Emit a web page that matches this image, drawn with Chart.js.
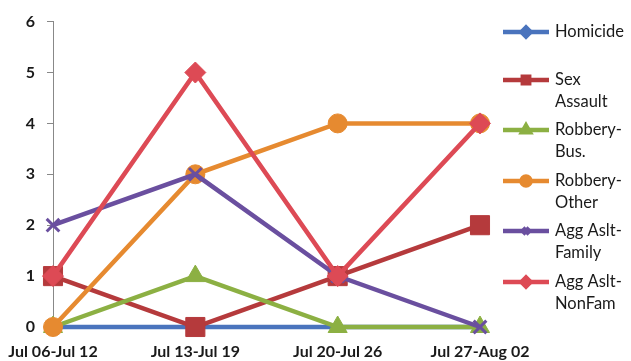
<!DOCTYPE html>
<html>
<head>
<meta charset="utf-8">
<script src="https://cdn.jsdelivr.net/npm/chart.js@4"></script>
<style>
  html, body { margin: 0; padding: 0; background: #fff; }
  #wrap { width: 631px; height: 361px; position: relative; }
</style>
</head>
<body>
<div id="wrap"><canvas id="crimechart"></canvas></div>
<script>
const weeks = ['Jul 06-Jul 12', 'Jul 13-Jul 19', 'Jul 20-Jul 26', 'Jul 27-Aug 02'];
const yTicks = [0, 1, 2, 3, 4, 5, 6];

const homicide = [0, 0, 0, 0];
const sexAssault = [1, 0, 1, 2];
const robberyBus = [0, 1, 0, 0];
const robberyOther = [0, 3, 4, 4];
const aggFamily = [2, 3, 1, 0];
const aggNonFam = [1, 5, 1, 4];

const seriesNames = [['Homicide'], ['Sex', 'Assault'], ['Robbery-', 'Bus.'], ['Robbery-', 'Other'], ['Agg Aslt-', 'Family'], ['Agg Aslt-', 'NonFam']];
const seriesColors = ['#4a74bd', '#b53a3c', '#8cb043', '#e68a30', '#6a4f9f', '#dd4a55'];
const seriesValues = [homicide, sexAssault, robberyBus, robberyOther, aggFamily, aggNonFam];
const seriesStyles = ['rectRot', 'rect', 'triangle', 'circle', 'crossRot', 'rectRot'];
const seriesRadius = [5, 13.5, 11, 9.5, 9, 10.5];

// legend drawn by hand so the labels can wrap like the original
const sideLegend = {
    id: 'sideLegend',
    afterDraw(chart) {
        const ctx = chart.ctx;
        const rows = [32, 80, 130, 181, 231, 282];
        ctx.save();
        chart.data.datasets.forEach(function (ds, i) {
            const y = rows[i];
            ctx.strokeStyle = ds.borderColor;
            ctx.lineWidth = 4.5;
            ctx.beginPath();
            ctx.moveTo(503, y);
            ctx.lineTo(549, y);
            ctx.stroke();
            ctx.fillStyle = ds.borderColor;
            Chart.helpers.drawPoint(ctx, {pointStyle: ds.pointStyle, radius: 4.5, borderWidth: 2}, 526, y);
            ctx.fill();
            ctx.fillStyle = '#1a1a1a';
            ctx.font = '16.5px Lato, "Open Sans", sans-serif';
            ctx.textBaseline = 'middle';
            ctx.textAlign = 'left';
            seriesNames[i].forEach(function (line, j) {
                ctx.fillText(line, 555, y + j * 22);
            });
        });
        ctx.restore();
    }
};

const datasets = seriesValues.map(function (vals, i) {
    return {
        label: seriesNames[i].join(' '),
        data: vals,
        borderColor: seriesColors[i],
        backgroundColor: seriesColors[i],
        borderWidth: 4.5,
        pointStyle: seriesStyles[i],
        pointRadius: seriesRadius[i],
        pointBorderWidth: seriesStyles[i] == 'crossRot' ? 3 : 1,
        pointHoverRadius: seriesRadius[i],
        tension: 0,
        clip: false,
        order: 6 - i
    };
});

new Chart(document.getElementById('crimechart'), {
    type: 'line',
    data: { labels: weeks, datasets: datasets },
    options: {
        responsive: true,
        maintainAspectRatio: false,
        animation: false,
        layout: { padding: { top: 17, right: 151, left: 0, bottom: 0 } },
        plugins: {
            legend: { display: false },
            tooltip: { enabled: false }
        },
        scales: {
            x: {
                offset: false,
                grid: { display: false },
                border: { display: true, color: '#888', width: 1 },
                ticks: {
                    color: '#1a1a1a',
                    font: { family: 'Lato, "Open Sans", sans-serif', size: 16, weight: 'bold' },
                    padding: 7,
                    maxRotation: 0,
                    autoSkip: false
                },
                afterFit: function (scale) { scale.height = 34; }
            },
            y: {
                min: 0,
                max: 6,
                afterBuildTicks: function (scale) {
                    scale.ticks = yTicks.map(function (v) { return { value: v }; });
                },
                grid: { drawOnChartArea: false, drawTicks: true, tickLength: 6, color: '#888' },
                border: { display: true, color: '#888', width: 1 },
                ticks: {
                    color: '#1a1a1a',
                    font: { family: 'Lato, "Open Sans", sans-serif', size: 16, weight: 'bold' },
                    padding: 12
                },
                afterFit: function (scale) { scale.width = 53; }
            }
        }
    },
    plugins: [sideLegend]
});
</script>
</body>
</html>
